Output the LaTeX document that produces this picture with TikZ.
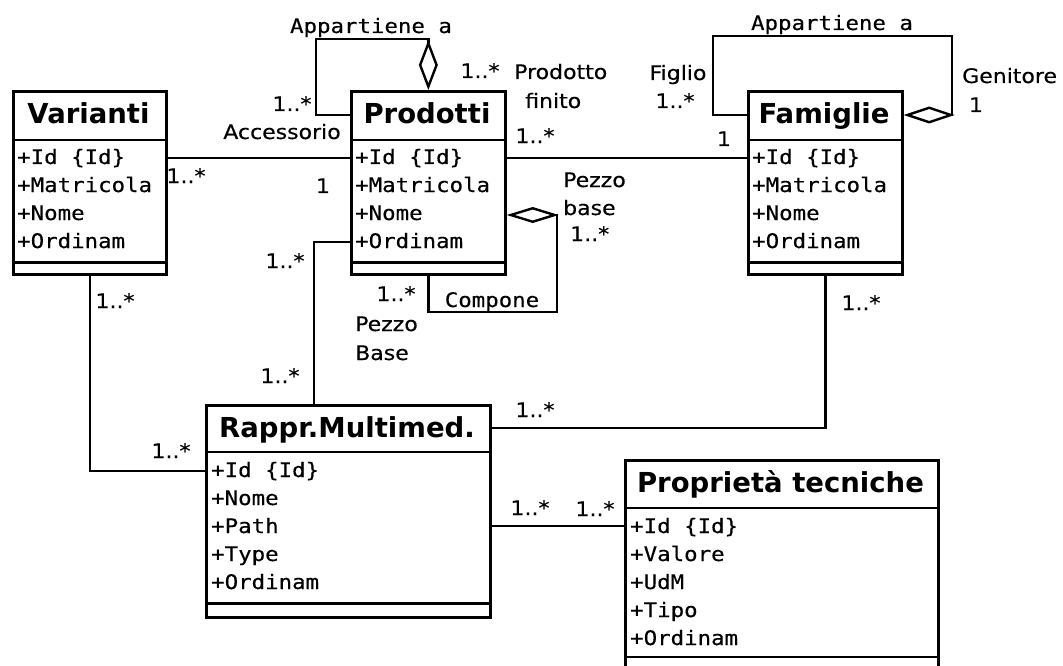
\documentclass[tikz,border=0pt]{standalone}
\usepackage{fontspec}
\setmainfont{DejaVu Sans}
\newfontfamily\lblfont{DejaVu Sans}[FakeStretch=1.1, FakeBold=0.4]
\newfontfamily\umlmono{DejaVu Sans Mono}[FakeStretch=1.12, FakeBold=0.4]
\usetikzlibrary{arrows.meta}
\begin{document}
\begin{tikzpicture}[x=1pt, y=-1pt,
  classbox/.style={draw, line width=2.7pt, inner sep=0pt, anchor=north west},
  divider/.style={line width=2.7pt},
  title/.style={font=\fontsize{27.5}{32}\selectfont\bfseries, anchor=base, inner sep=0pt},
  attr/.style={font=\umlmono\fontsize{20}{24}\selectfont, anchor=base west, inner sep=0pt},
  lbl/.style={font=\lblfont\fontsize{20}{24}\selectfont, anchor=base, inner sep=0pt},
  mlbl/.style={font=\umlmono\fontsize{20}{24}\selectfont, anchor=base, inner sep=0pt},
  link/.style={line width=2.4pt},
]
\useasboundingbox (0,0) rectangle (1063,666);
\clip (0,0) rectangle (1063,666);

% ---------- classes ----------
% Varianti
\node[classbox, minimum width=153pt, minimum height=183pt] (var) at (12,90) {};
\draw[divider] ([yshift=-50pt]var.north west) -- ([yshift=-50pt]var.north east);
\draw[divider] ([yshift=13pt]var.south west) -- ([yshift=13pt]var.south east);
\node[title] (var-t) at (88.5,124) {Varianti};
\node[attr] (var-a1) at (17,164) {+Id \{Id\}};
\node[attr] (var-a2) at (17,192) {+Matricola};
\node[attr] (var-a3) at (17,220) {+Nome};
\node[attr] (var-a4) at (17,248) {+Ordinam};

% Prodotti
\node[classbox, minimum width=154pt, minimum height=183pt] (prod) at (350,90) {};
\draw[divider] ([yshift=-50pt]prod.north west) -- ([yshift=-50pt]prod.north east);
\draw[divider] ([yshift=13pt]prod.south west) -- ([yshift=13pt]prod.south east);
\node[title] (prod-t) at (427,124) {Prodotti};
\node[attr] (prod-a1) at (355,164) {+Id \{Id\}};
\node[attr] (prod-a2) at (355,192) {+Matricola};
\node[attr] (prod-a3) at (355,220) {+Nome};
\node[attr] (prod-a4) at (355,248) {+Ordinam};

% Famiglie
\node[classbox, minimum width=154pt, minimum height=183pt] (fam) at (747,90) {};
\draw[divider] ([yshift=-50pt]fam.north west) -- ([yshift=-50pt]fam.north east);
\draw[divider] ([yshift=13pt]fam.south west) -- ([yshift=13pt]fam.south east);
\node[title] (fam-t) at (824,124) {Famiglie};
\node[attr] (fam-a1) at (752,164) {+Id \{Id\}};
\node[attr] (fam-a2) at (752,192) {+Matricola};
\node[attr] (fam-a3) at (752,220) {+Nome};
\node[attr] (fam-a4) at (752,248) {+Ordinam};

% Rappr.Multimed.
\node[classbox, minimum width=284pt, minimum height=212pt] (rap) at (205,404) {};
\draw[divider] ([yshift=-48pt]rap.north west) -- ([yshift=-48pt]rap.north east);
\draw[divider] ([yshift=15pt]rap.south west) -- ([yshift=15pt]rap.south east);
\node[title] (rap-t) at (347,437) {Rappr.Multimed.};
\node[attr] (rap-a1) at (211,477) {+Id \{Id\}};
\node[attr] (rap-a2) at (211,505) {+Nome};
\node[attr] (rap-a3) at (211,533) {+Path};
\node[attr] (rap-a4) at (211,561) {+Type};
\node[attr] (rap-a5) at (211,589) {+Ordinam};

% Proprietà tecniche
\node[classbox, minimum width=313pt, minimum height=240pt] (prop) at (624,459) {};
\draw[divider] ([yshift=-49pt]prop.north west) -- ([yshift=-49pt]prop.north east);
\draw[divider] ([yshift=-198pt]prop.north west) -- ([yshift=-198pt]prop.north east);
\node[title] (prop-t) at (780.5,492) {Proprietà tecniche};
\node[attr] (prop-a1) at (630,533) {+Id \{Id\}};
\node[attr] (prop-a2) at (630,561) {+Valore};
\node[attr] (prop-a3) at (630,589) {+UdM};
\node[attr] (prop-a4) at (630,617) {+Tipo};
\node[attr] (prop-a5) at (630,645) {+Ordinam};

% ---------- associations ----------
\coordinate (pl1) at (316,39);
\coordinate (fl1) at (713,36);
\coordinate (fl2) at (952,36);
\coordinate (cl1) at (557,312);

% Prodotti "Appartiene a" (self aggregation)
\draw[link, -{Diamond[open, length=50pt, width=19pt]}]
  ([yshift=-25pt]prod.north west) -| (pl1) -| (prod.north);
% Famiglie "Appartiene a" (self aggregation)
\draw[link, -{Diamond[open, length=51pt, width=17pt]}]
  ([yshift=-25pt]fam.north west) -| (fl1) -- (fl2) |- ([yshift=-25pt]fam.north east);
% Prodotti "Compone" (self aggregation)
\draw[link, -{Diamond[open, length=52pt, width=16pt]}]
  (prod.south) |- (cl1) |- ([yshift=-125pt]prod.north east);
% Varianti -- Prodotti
\draw[link] ([yshift=-68pt]var.north east) -- ([yshift=-68pt]prod.north west);
% Prodotti -- Famiglie
\draw[link] ([yshift=-68pt]prod.north east) -- ([yshift=-68pt]fam.north west);
% Prodotti -- Rappr.Multimed.
\draw[link] ([yshift=-152pt]prod.north west) -| ([xshift=109pt]rap.north west);
% Varianti -- Rappr.Multimed.
\draw[link] (var.south) |- ([yshift=-67pt]rap.north west);
% Famiglie -- Rappr.Multimed.
\draw[link] (fam.south) |- ([yshift=-24pt]rap.north east);
% Rappr.Multimed. -- Proprietà tecniche
\draw[link] ([yshift=-122pt]rap.north east) -- ([yshift=-67pt]prop.north west);

% ---------- role names and multiplicities ----------
\node[mlbl] (lpa) at (371,33) {Appartiene a};
\node[lbl] (m1) at (292,111) {1..*};
\node[lbl] (lacc) at (282,139) {Accessorio};
\node[lbl] (m2) at (480,78) {1..*};
\node[lbl, anchor=base west] (lpf1) at (514,79) {Prodotto};
\node[lbl, anchor=base west] (lpf2) at (525,108) {finito};
\node[lbl] (m3) at (535,143) {1..*};
\node[lbl] (m4) at (724,146) {1};
\node[lbl] (lfig) at (678,80) {Figlio};
\node[lbl] (m5) at (675,108) {1..*};
\node[mlbl] (lfa) at (832,30) {Appartiene a};
\node[lbl, anchor=base west] (lgen) at (962,83) {Genitore};
\node[lbl] (m6) at (976,112) {1};
\node[lbl] (m7) at (186,183) {1..*};
\node[lbl] (m8) at (323,193) {1};
\node[lbl, anchor=base west] (lpb1) at (563,187) {Pezzo};
\node[lbl, anchor=base west] (lpb2) at (563,215) {base};
\node[lbl, anchor=base west] (m9) at (570,241) {1..*};
\node[lbl] (m10) at (285,268) {1..*};
\node[lbl] (m11) at (115,308) {1..*};
\node[lbl] (m12) at (396,301) {1..*};
\node[mlbl] (lcomp) at (492,307) {Compone};
\node[lbl, anchor=base west] (lpB1) at (355,331) {Pezzo};
\node[lbl, anchor=base west] (lpB2) at (355,360) {Base};
\node[lbl] (m13) at (861,310) {1..*};
\node[lbl] (m14) at (280,383) {1..*};
\node[lbl] (m15) at (535,417) {1..*};
\node[lbl] (m16) at (171,458) {1..*};
\node[lbl] (m17) at (530,515) {1..*};
\node[lbl] (m18) at (595,516) {1..*};
\end{tikzpicture}
\end{document}
